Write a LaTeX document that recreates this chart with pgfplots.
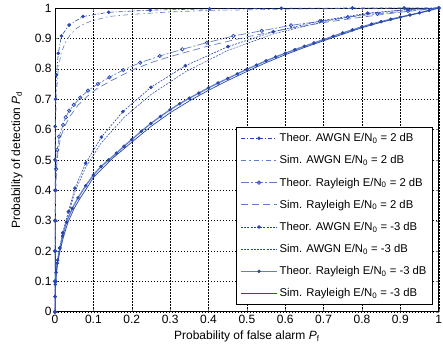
\documentclass[border=0pt]{standalone}
\usepackage{fontspec}
\setmainfont{Liberation Sans}
\usepackage{pgfplots}
\pgfplotsset{compat=1.18}
\definecolor{dk}{RGB}{40,70,175}
\definecolor{lt}{RGB}{95,125,200}
\begin{document}
\begin{tikzpicture}
\begin{axis}[
 at={(0,0)}, anchor=south west,
 scale only axis, width=384pt, height=304pt,
 xmin=0,xmax=1,ymin=0,ymax=1,
 xtick={0,0.1,0.2,0.3,0.4,0.5,0.6,0.7,0.8,0.9,1},
 ytick={0,0.1,0.2,0.3,0.4,0.5,0.6,0.7,0.8,0.9,1},
 /pgf/number format/assume math mode=true,
 tick label style={font=\fontsize{12}{14}\selectfont},
 grid=major, major grid style={black, line width=0.4pt, dash pattern=on 1.5pt off 1.5pt},
 tick align=inside, xtick pos=both, ytick pos=both,
 major tick length=3pt,
 axis line style={line width=0.8pt},
 xlabel={Probability of false alarm \textit{P}\textsubscript{f}},
 ylabel={Probability of detection \textit{P}\textsubscript{d}},
 label style={font=\fontsize{12}{14}\selectfont},
 xlabel style={at={(axis description cs:0.5,-0.081)},anchor=center},
 ylabel style={at={(axis description cs:-0.099,0.5)},anchor=center},
 legend style={at={(rel axis cs:0.985,0.023)}, anchor=south east, draw=black, line width=0.9pt,
   font=\fontsize{11.3}{13}\selectfont, row sep=8.5pt, inner sep=4pt},
 legend cell align=left,
 legend image code/.code={\draw[mark repeat=2,mark phase=2,#1] plot coordinates {(0pt,0pt) (18pt,0pt) (36pt,0pt)};},
]
% Theor AWGN 2 dB
\addplot[dk, line width=0.6pt, dash pattern=on 4pt off 2pt on 1pt off 2pt, mark=*, mark size=1.5pt, mark options={solid}] coordinates {
(0,0)(0,0.1)(0,0.2)(0,0.3)(0,0.4)(0,0.5)(0.0005,0.61)(0.0015,0.70)(0.004,0.78)(0.0086,0.851)(0.017,0.908)(0.037,0.944)(0.073,0.972)(0.14,0.986)(0.248,0.993)(0.403,0.997)(0.59,0.999)(0.775,1)(0.91,1)(1,1)};
\addlegendentry{Theor. AWGN E/N\textsubscript{0} = 2 dB}
% Sim AWGN 2 dB
\addplot[lt, line width=0.6pt, dash pattern=on 5pt off 3pt on 1.5pt off 3pt] coordinates {
(0,0)(0,0.4)(0.001,0.6)(0.004,0.72)(0.0086,0.80)(0.016,0.85)(0.026,0.884)(0.04,0.912)(0.056,0.933)(0.075,0.947)(0.095,0.957)(0.14,0.972)(0.2,0.979)(0.3,0.987)(0.4,0.992)(0.6,0.996)(0.8,0.999)(1,1)};
\addlegendentry{Sim. AWGN E/N\textsubscript{0} = 2 dB}
% Theor Rayleigh 2 dB
\addplot[lt, line width=0.7pt, dash pattern=on 8pt off 2pt on 2pt off 2pt, mark=o, mark size=1.7pt, mark options={solid,dk}] coordinates {
(0,0)(0.0001,0.1)(0.0003,0.2)(0.0007,0.3)(0.0015,0.4)(0.003,0.47)(0.006,0.533)(0.011,0.577)(0.021,0.615)(0.028,0.64)(0.037,0.662)(0.049,0.681)(0.066,0.705)(0.086,0.728)(0.112,0.75)(0.142,0.772)(0.178,0.796)(0.222,0.82)(0.273,0.842)(0.332,0.864)(0.396,0.886)(0.465,0.908)(0.539,0.925)(0.615,0.943)(0.69,0.956)(0.763,0.97)(0.84,0.981)(0.92,0.99)(1,1)};
\addlegendentry{Theor. Rayleigh E/N\textsubscript{0} = 2 dB}
% Sim Rayleigh 2 dB
\addplot[lt, line width=0.7pt, dash pattern=on 7pt off 4pt] coordinates {
(0,0)(0.0002,0.1)(0.0005,0.2)(0.001,0.3)(0.002,0.4)(0.004,0.47)(0.008,0.53)(0.015,0.575)(0.025,0.61)(0.04,0.645)(0.06,0.68)(0.085,0.71)(0.11,0.735)(0.15,0.763)(0.2,0.795)(0.25,0.82)(0.3,0.84)(0.4,0.875)(0.5,0.905)(0.6,0.93)(0.7,0.952)(0.8,0.97)(0.9,0.986)(1,1)};
\addlegendentry{Sim. Rayleigh E/N\textsubscript{0} = 2 dB}
% Theor AWGN -3 dB
\addplot[dk, line width=0.6pt, dash pattern=on 2pt off 1.2pt, mark=*, mark size=1.5pt, mark options={solid}] coordinates {
(0,0)(0.0005,0.05)(0.002,0.1)(0.006,0.16)(0.012,0.21)(0.02,0.26)(0.035,0.33)(0.052,0.407)(0.08,0.489)(0.121,0.575)(0.177,0.659)(0.25,0.739)(0.34,0.81)(0.451,0.873)(0.569,0.922)(0.694,0.958)(0.815,0.983)(0.92,0.995)(1,1)};
\addlegendentry{Theor. AWGN E/N\textsubscript{0} = -3 dB}
% Sim AWGN -3 dB
\addplot[dk, line width=0.5pt, dash pattern=on 2pt off 1.2pt] coordinates {
(0,0)(0.002,0.09)(0.006,0.15)(0.012,0.2)(0.02,0.25)(0.035,0.32)(0.052,0.395)(0.08,0.475)(0.12,0.555)(0.18,0.64)(0.25,0.715)(0.34,0.79)(0.45,0.86)(0.57,0.915)(0.7,0.955)(0.82,0.982)(0.92,0.995)(1,1)};
\addlegendentry{Sim. AWGN E/N\textsubscript{0} = -3 dB}
% Theor Rayleigh -3 dB
\addplot[lt, line width=1.3pt, solid, mark=*, mark size=1.5pt, mark options={dk,line width=0.5pt}] coordinates {
(0,0)(0.0003,0.05)(0.001,0.09)(0.003,0.13)(0.007,0.17)(0.013,0.21)(0.02,0.25)(0.03,0.295)(0.045,0.34)(0.06,0.375)(0.08,0.415)(0.1,0.45)(0.12,0.478)(0.14,0.5)(0.16,0.522)(0.18,0.545)(0.2,0.567)(0.225,0.594)(0.25,0.62)(0.275,0.643)(0.3,0.665)(0.325,0.685)(0.35,0.703)(0.375,0.72)(0.4,0.737)(0.425,0.753)(0.45,0.768)(0.475,0.783)(0.5,0.798)(0.525,0.812)(0.55,0.826)(0.575,0.839)(0.6,0.851)(0.625,0.863)(0.65,0.874)(0.675,0.885)(0.7,0.896)(0.725,0.907)(0.75,0.918)(0.775,0.928)(0.8,0.938)(0.825,0.947)(0.85,0.955)(0.875,0.963)(0.9,0.97)(0.925,0.977)(0.95,0.984)(0.975,0.992)(1,1)};
\addlegendentry{Theor. Rayleigh E/N\textsubscript{0} = -3 dB}
% Sim Rayleigh -3 dB
\addplot[dk, line width=0.7pt, solid] coordinates {
(0,0)(0.0004,0.05)(0.0012,0.09)(0.0035,0.13)(0.008,0.17)(0.015,0.21)(0.023,0.25)(0.034,0.295)(0.05,0.34)(0.066,0.375)(0.087,0.415)(0.1,0.442)(0.15,0.505)(0.2,0.558)(0.25,0.61)(0.3,0.655)(0.35,0.694)(0.4,0.729)(0.45,0.761)(0.5,0.791)(0.55,0.82)(0.6,0.846)(0.65,0.87)(0.7,0.892)(0.75,0.914)(0.8,0.935)(0.85,0.953)(0.9,0.969)(0.95,0.984)(1,1)};
\addlegendentry{Sim. Rayleigh E/N\textsubscript{0} = -3 dB}
\end{axis}
\pgfresetboundingbox
\useasboundingbox (-55pt,-37pt) rectangle (388.3pt,312pt);
\end{tikzpicture}
\end{document}
